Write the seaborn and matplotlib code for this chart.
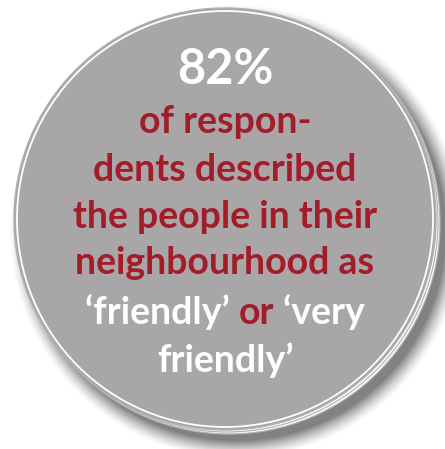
import seaborn as sns
import matplotlib.pyplot as plt
import numpy as np
from matplotlib.patches import Circle
from matplotlib.offsetbox import TextArea, HPacker, AnnotationBbox

# content
headline = "82%"
red_lines = ["of respon-", "dents described", "the people in their", "neighbourhood as"]
mixed_line = ["\u2018friendly\u2019 ", "or", " \u2018very"]
mixed_colors = ["white", "red", "white"]
last_line = "friendly\u2019"

GRAY = "#a8a6a7"
RED = "#a21c2a"

sns.set_theme(style="white")
plt.rcParams['font.family'] = ['Lato', 'DejaVu Sans']

fig = plt.figure(figsize=(4.45, 4.49), dpi=100)
ax = fig.add_axes([0, 0, 1, 1])
ax.set_xlim(0, 445)
ax.set_ylim(449, 0)
ax.axis('off')

cx, cy, r = 225, 219, 211

# soft shadow toward bottom right
yy, xx = np.mgrid[0:449, 0:445]
d = np.sqrt((xx - (cx + 11)) ** 2 + (yy - (cy + 12)) ** 2) - r
alpha = np.clip(1 - (d + 2) / 18, 0, 1) ** 1.4 * 0.7
shadow = np.zeros((449, 445, 4))
shadow[..., :3] = 0.3
shadow[..., 3] = alpha
ax.imshow(shadow, extent=(0, 445, 449, 0), zorder=0, interpolation='bilinear')

# stacked white rims
for off in (4, 2):
    ax.add_patch(Circle((cx + off, cy + off), r, facecolor='white',
                        edgecolor='#b5b3b4', lw=0.9, zorder=1))
ax.add_patch(Circle((cx, cy), r, facecolor=GRAY, edgecolor='#b0aeaf', lw=1.0, zorder=2))
ax.add_patch(Circle((cx, cy), r - 3, facecolor='none', edgecolor='white', lw=1.3, zorder=3))

ax.text(cx, 70, headline, color='white', fontsize=35, fontweight='bold',
        ha='center', va='center', zorder=5)

ys = [122, 170, 217, 263]
for txt, y in zip(red_lines, ys):
    ax.text(cx, y, txt, color=RED, fontsize=27, fontweight='bold',
            ha='center', va='center', zorder=5)

parts = [TextArea(t, textprops=dict(color=RED if c == 'red' else 'white',
                                    fontsize=27, fontweight='bold'))
         for t, c in zip(mixed_line, mixed_colors)]
box = HPacker(children=parts, align='baseline', pad=0, sep=0)
ab = AnnotationBbox(box, (cx, 312), frameon=False, box_alignment=(0.5, 0.5), zorder=5)
ax.add_artist(ab)

ax.text(cx, 360, last_line, color='white', fontsize=27, fontweight='bold',
        ha='center', va='center', zorder=5)

fig.savefig('out.png', dpi=100)
